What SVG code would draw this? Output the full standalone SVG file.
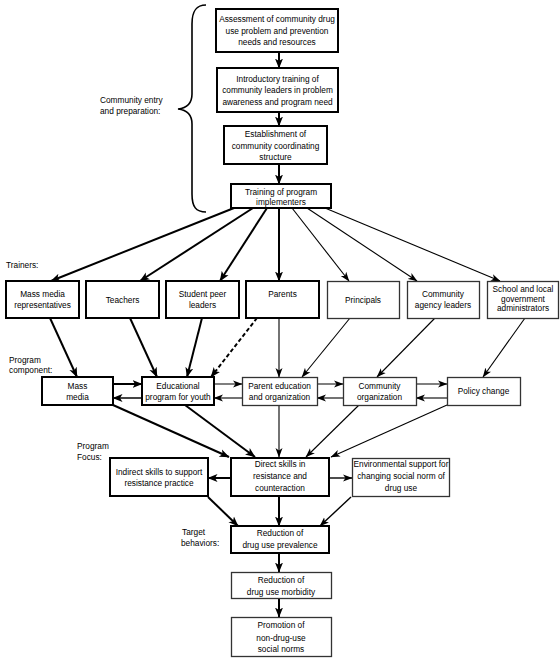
<svg xmlns="http://www.w3.org/2000/svg" width="560" height="661" viewBox="0 0 560 661">
<style>
text{font-family:"Liberation Sans",Arial,sans-serif;font-size:8.3px;fill:#000}
.c text{text-anchor:middle}
.b{fill:#fff;stroke:#000;stroke-width:2}
.t{fill:#fff;stroke:#333;stroke-width:1.3}
.k{fill:none;stroke:#000;stroke-width:2;marker-end:url(#ab)}
.n{fill:none;stroke:#000;stroke-width:1.1;marker-end:url(#an)}
.g{fill:none;stroke:#555;stroke-width:1.5;marker-end:url(#an)}
.d{stroke-dasharray:4,2.5}
</style>
<defs>
<marker id="ab" markerUnits="userSpaceOnUse" markerWidth="11" markerHeight="9" refX="9.5" refY="4.5" orient="auto"><path d="M0,0.5 L10,4.5 L0,8.5 L2.5,4.5 z" fill="#000"/></marker>
<marker id="an" markerUnits="userSpaceOnUse" markerWidth="10" markerHeight="8" refX="9" refY="4" orient="auto"><path d="M0,0.5 L9.5,4 L0,7.5 L2.5,4 z" fill="#000"/></marker>
</defs>

<g id="labels">
<path d="M206,5 C196,5 192,11 192,24 L192,94 C192,104 187,108 178,109 C187,110 192,114 192,124 L192,194 C192,207 196,212 206,212" fill="none" stroke="#000" stroke-width="1.6"/>
<text x="100" y="103">Community entry</text>
<text x="100" y="114">and preparation:</text>
<text x="6" y="268">Trainers:</text>
<text x="9" y="363">Program</text>
<text x="9" y="373">component:</text>
<text x="77" y="449">Program</text>
<text x="77" y="460">Focus:</text>
<text x="182" y="535">Target</text>
<text x="181" y="546">behaviors:</text>
</g>

<g id="connectors">
<path class="k" d="M279,52 L279,68"/>
<path class="k" d="M279,112 L279,126"/>
<path class="k" d="M279,164 L279,184"/>
<path class="k" d="M234,208 L51,281"/>
<path class="k" d="M253,208 L140,281"/>
<path class="k" d="M267,208 L220,281"/>
<path class="k" d="M279,208 L279,281"/>
<path class="n" d="M292,208 L349,281"/>
<path class="n" d="M307,208 L417,281"/>
<path class="n" d="M325,208 L500,281"/>
<path class="k" d="M50,318 L77,377"/>
<path class="k" d="M130,318 L157,377"/>
<path class="k" d="M202,318 L187,377"/>
<path class="k d" d="M257,318 L211,377"/>
<path class="n" d="M279,318 L279,377"/>
<path class="n" d="M350,318 L302,377"/>
<path class="n" d="M435,318 L377,377"/>
<path class="n" d="M525,318 L483,377"/>
<path class="k" d="M113,384 L142,384"/>
<path class="k" d="M142,398 L113,398" style="stroke:#444"/>
<path class="g" d="M214,384 L242,384"/>
<path class="n" d="M242,398 L214,398"/>
<path class="g" d="M317,384 L343,384"/>
<path class="n" d="M343,398 L317,398"/>
<path class="g" d="M416,384 L447,384"/>
<path class="n" d="M447,398 L416,398"/>
<path class="k" d="M113,405 L229,457"/>
<path class="k" d="M185,405 L255,457"/>
<path class="n" d="M279,405 L279,457"/>
<path class="n" d="M359,405 L306,457"/>
<path class="n" d="M447,405 L331,457"/>
<path class="k" d="M231,478 L208,478"/>
<path class="n" d="M329,478 L352,478" style="stroke-width:1.4"/>
<path class="k" d="M208,497 L238,526"/>
<path class="k" d="M279,497 L279,526"/>
<path class="n" d="M351,497 L320,526" style="stroke-width:1.4"/>
<path class="k" d="M279,553 L279,572"/>
<path class="k" d="M279,598 L279,617"/>
</g>

<g id="assessment" class="c"><rect class="b" x="216" y="9" width="122" height="43"/>
<text x="277" y="22">Assessment of community drug</text><text x="277" y="33.5">use problem and prevention</text><text x="277" y="45">needs and resources</text></g>
<g id="introductory" class="c"><rect class="b" x="217" y="68" width="121" height="44"/>
<text x="277.5" y="81.5">Introductory training of</text><text x="277.5" y="93">community leaders in problem</text><text x="277.5" y="104.5">awareness and program need</text></g>
<g id="establishment" class="c"><rect class="b" x="224" y="126" width="103" height="38"/>
<text x="275.5" y="137">Establishment of</text><text x="275.5" y="148.5">community coordinating</text><text x="275.5" y="160">structure</text></g>
<g id="training" class="c"><rect class="b" x="231" y="184" width="100" height="24"/>
<text x="281" y="195">Training of program</text><text x="281" y="205">implementers</text></g>

<g id="massmediarep" class="c"><rect class="b" x="6" y="281" width="73" height="37"/>
<text x="42.5" y="297">Mass media</text><text x="42.5" y="308">representatives</text></g>
<g id="teachers" class="c"><rect class="b" x="86" y="281" width="73" height="37"/>
<text x="122.5" y="302.5">Teachers</text></g>
<g id="studentpeer" class="c"><rect class="b" x="166" y="281" width="73" height="37"/>
<text x="202.5" y="297">Student peer</text><text x="202.5" y="308">leaders</text></g>
<g id="parents" class="c"><rect class="b" x="246" y="281" width="73" height="37"/>
<text x="282.5" y="297">Parents</text></g>
<g id="principals" class="c"><rect class="t" x="327.5" y="281.5" width="72" height="37"/>
<text x="363" y="302.5">Principals</text></g>
<g id="communityagency" class="c"><rect class="t" x="407.5" y="281.5" width="72" height="37"/>
<text x="443" y="297">Community</text><text x="443" y="308">agency leaders</text></g>
<g id="school" class="c"><rect class="t" x="487.5" y="281.5" width="71" height="37"/>
<text x="523" y="292">School and local</text><text x="523" y="301.5">government</text><text x="523" y="311">administrators</text></g>

<g id="massmedia" class="c"><rect class="b" x="42" y="377" width="71" height="28"/>
<text x="77.5" y="388.5">Mass</text><text x="77.5" y="400">media</text></g>
<g id="educational" class="c"><rect class="b" x="142" y="377" width="72" height="28"/>
<text x="178" y="388.5">Educational</text><text x="178" y="400">program for youth</text></g>
<g id="parented" class="c"><rect class="t" x="242.5" y="377.5" width="75" height="28"/>
<text x="279.5" y="388.5">Parent education</text><text x="279.5" y="400">and organization</text></g>
<g id="communityorg" class="c"><rect class="t" x="343.5" y="377.5" width="73" height="28"/>
<text x="379.5" y="388.5">Community</text><text x="379.5" y="400">organization</text></g>
<g id="policy" class="c"><rect class="t" x="447.5" y="377.5" width="73" height="28"/>
<text x="483.5" y="394">Policy change</text></g>

<g id="indirect" class="c"><rect class="b" x="110" y="458" width="98" height="38"/>
<text x="159" y="475">Indirect skills to support</text><text x="159" y="486">resistance practice</text></g>
<g id="direct" class="c"><rect class="b" x="231" y="458" width="98" height="38"/>
<text x="280" y="467">Direct skills in</text><text x="280" y="479">resistance and</text><text x="280" y="490.5">counteraction</text></g>
<g id="environmental" class="c"><rect class="t" x="352.5" y="458.5" width="97" height="38"/>
<text x="401" y="467">Environmental support for</text><text x="401" y="479">changing social norm of</text><text x="401" y="490.5">drug use</text></g>

<g id="prevalence" class="c"><rect class="b" x="231" y="526" width="98" height="27"/>
<text x="280" y="536">Reduction of</text><text x="280" y="548">drug use prevalence</text></g>
<g id="morbidity" class="c"><rect class="t" x="231.5" y="572.5" width="100" height="26"/>
<text x="281" y="583">Reduction of</text><text x="281" y="595">drug use morbidity</text></g>
<g id="promotion" class="c"><rect class="t" x="231.5" y="617.5" width="100" height="39"/>
<text x="281" y="628">Promotion of</text><text x="281" y="641">non-drug-use</text><text x="281" y="652">social norms</text></g>
</svg>
